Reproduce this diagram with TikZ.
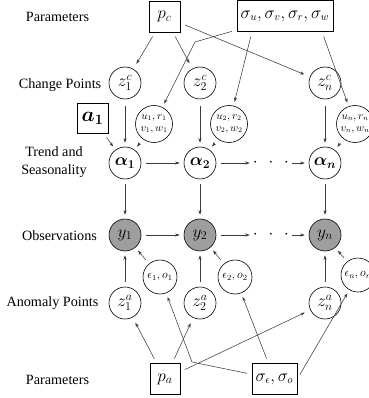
\documentclass[tikz,border=0pt]{standalone}
\usepackage{amsmath,bm}
\usepackage{fontspec}
\setmainfont{Liberation Serif}
\usetikzlibrary{arrows.meta}
\definecolor{obsgray}{RGB}{158,158,158}
\definecolor{linegray}{RGB}{60,60,60}
\begin{document}
\begin{tikzpicture}[x=1pt,y=-1pt,
  lab/.style={font=\fontsize{14.2}{18}\selectfont},
  circ/.style={circle,draw,line width=0.6pt,minimum size=32pt,inner sep=0pt,font=\fontsize{17.5}{19}\selectfont},
  smallc/.style={circle,draw,line width=0.6pt,minimum size=37pt,inner sep=0pt,font=\fontsize{10.5}{12}\selectfont,align=center},
  epsc/.style={circle,draw,line width=0.6pt,minimum size=34pt,inner sep=0pt,font=\fontsize{11.5}{13}\selectfont},
  obs/.style={circ,fill=obsgray},
  pbox/.style={draw,line width=0.6pt,minimum height=31pt,inner sep=2pt,font=\fontsize{16}{18}\selectfont},
  dotsn/.style={inner sep=1pt,font=\fontsize{17}{19}\selectfont},
  arr/.style={-{Stealth[length=4.5pt,width=3.2pt]},line width=0.55pt,draw=linegray,shorten <=5pt,shorten >=4pt}]
\useasboundingbox (0,0) rectangle (368,398);
% labels
\node[lab] (ptop) at (57.5,17) {Parameters};
\node[lab] (lcp) at (60,85) {Change Points};
\node[lab,align=center] (ltr) at (54,162) {Trend and\\Seasonality};
\node[lab] (lobs) at (59.5,236) {Observations};
\node[lab] (lan) at (52.5,303) {Anomaly Points};
\node[lab] (pbot) at (57.5,380) {Parameters};
% top params
\node[pbox,minimum width=31pt,font=\fontsize{18}{20}\selectfont] (pc) at (164.5,16.5) {$p_c$};
\node[pbox,minimum width=96pt,inner sep=1pt] (sig) at (285,16) {$\sigma_u,\sigma_v,\sigma_r,\sigma_w$};
% change points
\node[circ] (z1c) at (125,83) {$z_1^c$};
\node[circ] (z2c) at (200,83) {$z_2^c$};
\node[circ] (znc) at (325,83) {$z_n^c$};
\node[smallc] (u1) at (154,124) {$u_1,r_1$\\$v_1,w_1$};
\node[smallc] (u2) at (229,124) {$u_2,r_2$\\$v_2,w_2$};
\node[smallc] (un) at (355,124) {$u_n,r_n$\\$v_n,w_n$};
\node[pbox,minimum width=31pt,minimum height=30pt,font=\fontsize{21}{22}\selectfont] (a1) at (92.5,118) {$\bm{a_1}$};
% trend
\node[circ] (al1) at (125,163) {$\bm{\alpha_1}$};
\node[circ] (al2) at (200,163) {$\bm{\alpha_2}$};
\node[circ] (aln) at (325,163) {$\bm{\alpha_n}$};
\node[dotsn] (d1) at (271,163) {$\cdot\hspace{7pt}\cdot\hspace{7pt}\cdot$};
% observations
\node[obs] (y1) at (125,235) {$y_1$};
\node[obs] (y2) at (200,235) {$y_2$};
\node[obs] (yn) at (325,235) {$y_n$};
\node[dotsn] (d2) at (271,235) {$\cdot\hspace{7pt}\cdot\hspace{7pt}\cdot$};
% anomaly
\node[epsc] (e1) at (160,277) {$\epsilon_1,o_1$};
\node[epsc] (e2) at (235,277) {$\epsilon_2,o_2$};
\node[epsc] (en) at (358,275) {$\epsilon_n,o_n$};
\node[circ] (z1a) at (125,303) {$z_1^a$};
\node[circ] (z2a) at (200,303) {$z_2^a$};
\node[circ] (zna) at (325,303) {$z_n^a$};
% bottom params
\node[pbox,minimum width=30pt,font=\fontsize{18}{20}\selectfont] (pa) at (165,379) {$p_a$};
\node[pbox,minimum width=45pt,inner sep=1pt] (sige) at (274.5,379) {$\sigma_\epsilon,\sigma_o$};
\coordinate (b1) at (195,42);
\coordinate (b2) at (192,362);
% arrows top
\draw[arr,shorten >=6pt] (pc) -- (z1c);
\draw[arr,shorten >=6pt] (pc) -- (z2c);
\draw[arr,shorten >=6pt] (pc) -- (znc);
\draw[arr] (sig) -- (b1) -- (u1);
\draw[arr] ([xshift=-33pt]sig.south) -- (u2);
\draw[arr] ([xshift=37pt]sig.south) -- (un);
% into alpha
\draw[arr] (a1) -- (al1);
\draw[arr,shorten <=7pt] (z1c) -- (al1);
\draw[arr,shorten <=7pt] (z2c) -- (al2);
\draw[arr,shorten <=7pt] (znc) -- (aln);
\draw[arr] (u1) -- (al1);
\draw[arr] (u2) -- (al2);
\draw[arr] (un) -- (aln);
\draw[arr] (al1) -- (al2);
\draw[arr,shorten >=2pt] (al2) -- (d1);
\draw[arr,shorten <=2pt] (d1) -- (aln);
\draw[arr] (al1) -- (y1);
\draw[arr] (al2) -- (y2);
\draw[arr] (aln) -- (yn);
\draw[arr] (y1) -- (y2);
\draw[arr,shorten >=2pt] (y2) -- (d2);
\draw[arr,shorten <=2pt] (d2) -- (yn);
% bottom
\draw[arr] (z1a) -- (y1);
\draw[arr] (z2a) -- (y2);
\draw[arr] (zna) -- (yn);
\draw[arr] (e1) -- (y1);
\draw[arr] (e2) -- (y2);
\draw[arr] (en) -- (yn);
\draw[arr,shorten >=6pt] (pa) -- (z1a);
\draw[arr,shorten >=6pt] (pa) -- (z2a);
\draw[arr,shorten >=6pt] (pa) -- (zna);
\draw[arr] (sige) -- (b2) -- (e1);
\draw[arr] (sige) -- (e2);
\draw[arr] (sige.east) -- (en);
\end{tikzpicture}
\end{document}
